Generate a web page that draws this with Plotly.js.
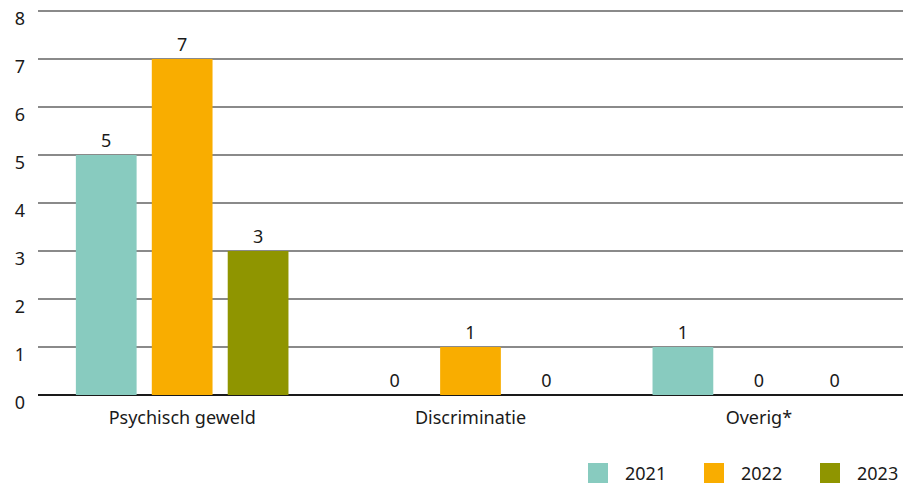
<!DOCTYPE html>
<html><head><meta charset="utf-8">
<script src="https://cdn.plot.ly/plotly-3.0.1.min.js"></script>
<style>html,body{margin:0;padding:0;background:#fff}#c{width:903px;height:487px}</style>
</head><body><div id="c"></div>
<script>
const categories = ["Psychisch geweld", "Discriminatie", "Overig*"];
const years = ["2021", "2022", "2023"];
const values2021 = [5, 0, 1];
const values2022 = [7, 1, 0];
const values2023 = [3, 0, 0];
const colors = ["#88CBBF", "#F9AD00", "#8F9500"];
const series = [values2021, values2022, values2023];
const yTicks = [0, 1, 2, 3, 4, 5, 6, 7, 8];

const traces = series.map((v, i) => ({
  type: "bar", name: years[i], x: categories, y: v,
  marker: {color: colors[i], line: {width: 0}},
  text: v.map(String), textposition: "outside", cliponaxis: false,
  textfont: {size: 18, color: "#1a1a1a"}, showlegend: false
}));

// custom legend (paper coordinates)
const L = 38, W = 865, B = 395, H = 390;
const px = x => (x - L) / W, py = y => (B - y) / H;
const legendX = [588, 704, 820];
const shapes = [], annotations = [];
years.forEach((yr, i) => {
  shapes.push({type: "rect", xref: "paper", yref: "paper",
    x0: px(legendX[i]), x1: px(legendX[i] + 20), y0: py(483), y1: py(463),
    fillcolor: colors[i], line: {width: 0}});
  annotations.push({xref: "paper", yref: "paper", x: px(legendX[i] + 35), y: py(473),
    xanchor: "left", yanchor: "middle", text: yr, showarrow: false,
    font: {size: 18, color: "#1a1a1a"}});
});

const layout = {
  width: 903, height: 487,
  margin: {l: 38, r: 0, t: 5, b: 92},
  font: {family: "Noto Sans, sans-serif", size: 18, color: "#1a1a1a"},
  barmode: "group", bargap: 0.21, bargroupgap: 0.2,
  paper_bgcolor: "#fff", plot_bgcolor: "#fff",
  xaxis: {showgrid: false, showline: false, ticks: "", tickfont: {size: 18}, ticklabelstandoff: 10},
  yaxis: {range: [0, 8.125], tickvals: yTicks, showgrid: true, gridcolor: "#8a8a8a", gridwidth: 1.3,
    zeroline: true, zerolinecolor: "#1a1a1a", zerolinewidth: 1.5, ticklabeloverflow: "allow",
    ticklabelshift: 8,
    ticks: "", ticklabelstandoff: 12, tickfont: {size: 18}, fixedrange: true},
  showlegend: false,
  shapes: shapes, annotations: annotations
};
Plotly.newPlot("c", traces, layout, {displayModeBar: false, staticPlot: true});
</script></body></html>
